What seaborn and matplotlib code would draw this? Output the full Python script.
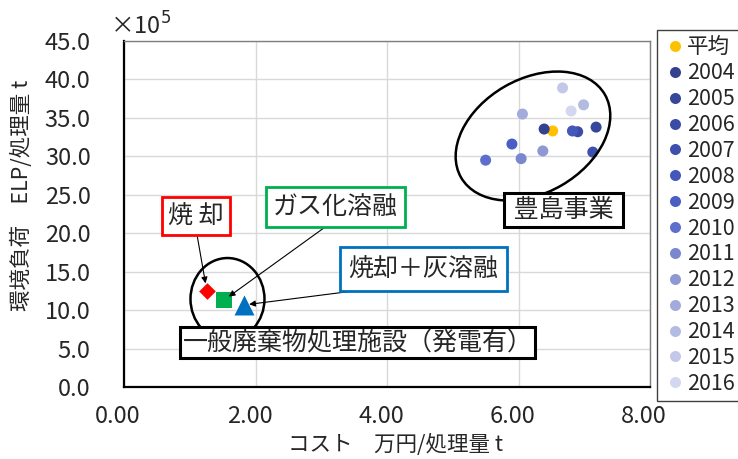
import matplotlib
matplotlib.use("Agg")
import matplotlib.pyplot as plt
import matplotlib.transforms as mtransforms
from matplotlib.patches import Ellipse
from matplotlib.ticker import FormatStrFormatter
import pandas as pd
import seaborn as sns

# Teshima project: yearly cost (10k yen / t) and environmental load (ELP / t, x10^5)
years = ["2004", "2005", "2006", "2007", "2008", "2009", "2010",
         "2011", "2012", "2013", "2014", "2015", "2016"]
teshima_cost = [6.39, 7.18, 6.90, 7.13, 6.82, 5.90, 5.50,
                6.04, 6.37, 6.06, 6.99, 6.67, 6.80]
teshima_elp = [33.55, 33.8, 33.2, 30.55, 33.3, 31.6, 29.5,
               29.7, 30.7, 35.5, 36.7, 38.9, 35.9]
year_colors = ["#34418F", "#36479B", "#3A4CA5", "#3D50AC", "#4457BA", "#4A5EC3",
               "#5C6FCB", "#7A87CE", "#8E99D4", "#A2ABDB", "#B4BBE2", "#C3C8E8",
               "#D3D7EF"]

avg_label = "平均"
avg_cost = 6.52
avg_elp = 33.3
avg_color = "#FFC000"

# Municipal waste plants with power generation
plant_labels = ["焼 却", "ガス化溶融", "焼却＋灰溶融"]
plant_cost = [1.26, 1.52, 1.82]
plant_elp = [12.5, 11.3, 10.66]
plant_markers = ["D", "s", "^"]
plant_sizes = [72, 117, 207]
plant_colors = ["#FF0000", "#00B050", "#0070C0"]

x_ticks = [0, 2, 4, 6, 8]
y_ticks = [0, 5, 10, 15, 20, 25, 30, 35, 40, 45]

sns.set_style("white")
plt.rcParams["font.family"] = ["Noto Sans CJK JP", "DejaVu Sans"]

W, H = 738, 459
fig = plt.figure(figsize=(W / 100, H / 100), dpi=100)
ax = fig.add_axes([124 / W, 72 / H, 526 / W, 346 / H])

series_order = [avg_label] + years
df = pd.DataFrame({
    "cost": [avg_cost] + teshima_cost,
    "elp": [avg_elp] + teshima_elp,
    "series": series_order,
})
palette = dict(zip(series_order, [avg_color] + year_colors))
sns.scatterplot(data=df, x="cost", y="elp", hue="series", hue_order=series_order,
                palette=palette, s=63, linewidth=0, ax=ax, zorder=3)

for c, e, m, s, col in zip(plant_cost, plant_elp, plant_markers, plant_sizes, plant_colors):
    sns.scatterplot(x=[c], y=[e], marker=m, s=s, color=col, linewidth=0,
                    legend=False, ax=ax, zorder=3)

ax.set_xlim(0, 8)
ax.set_ylim(0, 45)
ax.set_xticks(x_ticks)
ax.set_yticks(y_ticks)
ax.xaxis.set_major_formatter(FormatStrFormatter("%.2f"))
ax.yaxis.set_major_formatter(FormatStrFormatter("%.1f"))
ax.grid(True, color="#D9D9D9", lw=1)
ax.set_axisbelow(True)
ax.tick_params(direction="in", length=6, width=1, color="#595959", labelsize=17)
ax.tick_params(axis="y", pad=24)
ax.tick_params(axis="x", pad=13)
for lab in ax.get_xticklabels():
    lab.set_transform(lab.get_transform() +
                      mtransforms.ScaledTranslation(-6 / 100, 0, fig.dpi_scale_trans))
for side in ["left", "bottom"]:
    ax.spines[side].set_color("black")
    ax.spines[side].set_linewidth(1.6)
for side in ["top", "right"]:
    ax.spines[side].set_color("#7F7F7F")
    ax.spines[side].set_linewidth(1.0)

ax.set_xlabel("コスト　万円/処理量 t", fontsize=15.5, va="center")
ax.set_ylabel("環境負荷　ELP/処理量 t", fontsize=15.5, va="center")
ax.xaxis.set_label_coords((395 - 124) / 526, (387 - 445) / 346)
ax.yaxis.set_label_coords((22 - 124) / 526, (387 - 195) / 346)
fig.text(110 / W, 1 - 26 / H, "×10$^{5}$", fontsize=17, ha="left", va="center")

# group outlines, sized in inches around a data-space centre
def outline(cx, cy, w, h, angle):
    tr = fig.dpi_scale_trans + mtransforms.ScaledTranslation(cx, cy, ax.transData)
    ax.add_patch(Ellipse((0, 0), w, h, angle=angle, transform=tr, fill=False,
                         edgecolor="black", lw=1.8, zorder=4))

outline(6.22, 32.64, 1.66, 1.14, 30)
outline(1.574, 11.44, 0.74, 0.82, 0)

arrow = dict(arrowstyle="-|>", color="black", lw=0.8, mutation_scale=9,
             shrinkA=0, relpos=(0.5, 0))
label_pos = [(1.095, 22.24), (3.217, 23.47), (4.555, 15.34)]
label_pads = [0.25, 0.28, 0.35]
shrinks = [5.5, 4.3, 4.0]
for txt, c, e, pos, pad, col, sb in zip(plant_labels, plant_cost, plant_elp,
                                        label_pos, label_pads, plant_colors, shrinks):
    ax.annotate(txt, xy=(c, e), xytext=pos, ha="center", va="center", fontsize=18,
                bbox=dict(boxstyle=f"square,pad={pad}", fc="white", ec=col, lw=2),
                arrowprops=dict(arrow, shrinkB=sb), zorder=6)

ax.text(3.551, 5.85, "一般廃棄物処理施設（発電有）", ha="center", va="center", fontsize=18,
        bbox=dict(boxstyle="square,pad=0.1", fc="white", ec="black", lw=2.2), zorder=6)
ax.text(6.68, 23.02, " 豊島事業 ", ha="center", va="center", fontsize=18,
        bbox=dict(boxstyle="square,pad=0.15", fc="white", ec="black", lw=2.2), zorder=6)

sns.move_legend(ax, "upper left", bbox_to_anchor=(657 / W, 1 - 30 / H),
                bbox_transform=fig.transFigure, title=None, frameon=True,
                fancybox=False, edgecolor="#404040", framealpha=1, fontsize=15.5,
                labelspacing=0.18, handletextpad=0.0, borderpad=0.3,
                borderaxespad=0, handlelength=1.1)
ax.get_legend().get_frame().set_linewidth(1.0)

fig.savefig("out.png", dpi=100)
